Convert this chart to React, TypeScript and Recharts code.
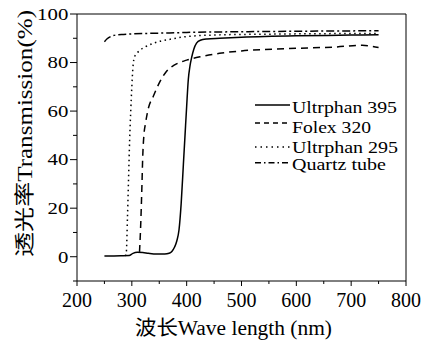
import { Legend, Line, LineChart, ReferenceLine, XAxis, YAxis } from "recharts";

const FONT = '"Liberation Serif", "Times New Roman", "Noto Sans CJK SC", serif';

// wavelength (nm) / transmission (%)
const u395Wl = [250, 280, 295, 302, 310, 320, 330, 345, 360, 368, 373, 378, 382, 386, 390, 394, 397, 400, 403, 406, 409, 413, 418, 425, 437, 460, 500, 600, 700, 750];
const u395T = [0.3, 0.4, 0.5, 1.4, 1.8, 1.7, 1.4, 1.1, 1.1, 1.4, 2.2, 4, 6.5, 11, 22, 38, 50, 62, 73, 78.5, 82, 85.5, 88, 89.2, 89.7, 90, 90.4, 91, 91.3, 91.5];

const folexWl = [314, 316, 318, 320, 322, 325, 330, 339, 351, 363, 378, 400, 430, 460, 500, 580, 670, 720, 735, 750];
const folexT = [2, 12, 26, 42, 50, 55, 61, 66, 72, 76.3, 79, 81, 82.6, 83.8, 84.8, 85.7, 86.4, 87.1, 86.8, 86.2];

const u295Wl = [288, 290, 292, 294, 296, 298, 300, 302, 305, 312, 325, 340, 370, 400, 460, 550, 650, 750];
const u295T = [0.3, 2, 16, 32, 48, 60, 70, 78, 82.4, 84.5, 86.5, 88, 89.6, 90.7, 91.4, 91.7, 91.9, 92];

const quartzWl = [250, 255, 262, 270, 285, 300, 350, 400, 500, 600, 750];
const quartzT = [88.6, 89.8, 90.8, 91.3, 91.6, 91.8, 92.1, 92.4, 92.7, 92.9, 93.1];

const xTicks = [200, 250, 300, 350, 400, 450, 500, 550, 600, 650, 700, 750, 800];
const yTicks = [-10, 0, 10, 20, 30, 40, 50, 60, 70, 80, 90, 100];

const toPoints = (wl: number[], t: number[]) => wl.map((x, i) => ({ x, y: t[i] }));

const series = [
  { name: "Ultrphan 395", data: toPoints(u395Wl, u395T), dash: undefined, legendDash: undefined, textW: 105 },
  { name: "Folex 320", data: toPoints(folexWl, folexT), dash: "7 5", legendDash: "5 4", textW: 79 },
  { name: "Ultrphan 295", data: toPoints(u295Wl, u295T), dash: "1.5 3.5", legendDash: "1.5 4", textW: 106 },
  { name: "Quartz tube", data: toPoints(quartzWl, quartzT), dash: "8 3 2 3", legendDash: "6 3 1.5 3", textW: 94 },
];

const XTick = (props: any) => {
  const { x, y, payload } = props;
  const major = payload.value % 100 === 0;
  return (
    <g>
      <line x1={x} x2={x} y1={y} y2={y + (major ? 5 : 3)} stroke="#000" />
      {major && (
        <text x={x} y={y + 25.5} textAnchor="middle" fontFamily={FONT} fontSize={20} fill="#000"
          textLength={30} lengthAdjust="spacingAndGlyphs">
          {payload.value}
        </text>
      )}
    </g>
  );
};

const YTick = (props: any) => {
  const { x, y, payload } = props;
  const v = payload.value;
  const major = v % 20 === 0 && v >= 0;
  const label = String(v);
  return (
    <g>
      <line x1={x - (major ? 7 : 4)} x2={x} y1={y} y2={y} stroke="#000" />
      {major && (
        <text x={x - 8.7} y={y + 5.8} textAnchor="end" fontFamily={FONT} fontSize={17} fill="#000"
          textLength={label.length * 10.4} lengthAdjust="spacingAndGlyphs">
          {label}
        </text>
      )}
    </g>
  );
};

const XTitle = (props: any) => {
  const { viewBox } = props;
  const cx = viewBox.x + viewBox.width / 2 - 8;
  return (
    <text x={cx} y={viewBox.y + 53.5} textAnchor="middle" fontFamily={FONT} fontSize={20} fill="#000"
      textLength={197} lengthAdjust="spacingAndGlyphs">
      波长Wave length (nm)
    </text>
  );
};

const YTitle = (props: any) => {
  const { viewBox } = props;
  const cy = viewBox.y + viewBox.height / 2 - 14;
  return (
    <text x={32} y={cy} transform={`rotate(-90, 32, ${cy})`} textAnchor="middle" dominantBaseline="auto"
      fontFamily={FONT} fontSize={20} fill="#000" textLength={247} lengthAdjust="spacingAndGlyphs">
      透光率Transmission(%)
    </text>
  );
};

const renderLegend = () => (
  <svg width={180} height={90} style={{ overflow: "visible" }}>
    {series.map((s, i) => {
      const ly = [10, 28, 52, 67.7][i];
      const ty = [18.3, 37.7, 58.3, 75][i];
      return (
        <g key={s.name}>
          <line x1={0} x2={35} y1={ly} y2={ly} stroke="#000" strokeWidth={1.5} strokeDasharray={s.legendDash} />
          <text x={37} y={ty} fontFamily={FONT} fontSize={16} fill="#000" textLength={s.textW}
            lengthAdjust="spacingAndGlyphs">
            {s.name}
          </text>
        </g>
      );
    })}
  </svg>
);

export default function App() {
  return (
    <div style={{ position: "absolute", left: 0, top: 0, background: "#fff" }}>
      <LineChart width={431} height={341} margin={{ top: 14, right: 25, bottom: 0, left: 0 }}>
        <XAxis
          type="number"
          dataKey="x"
          domain={[200, 800]}
          ticks={xTicks}
          interval={0}
          tickSize={0}
          tickMargin={0}
          tickLine={false}
          tick={<XTick />}
          height={60}
          stroke="#000"
          allowDataOverflow
          label={{ content: <XTitle /> }}
        />
        <YAxis
          type="number"
          dataKey="y"
          domain={[-10, 100]}
          ticks={yTicks}
          interval={0}
          tickSize={0}
          tickMargin={0}
          tickLine={false}
          tick={<YTick />}
          width={77}
          stroke="#000"
          allowDataOverflow
          label={{ content: <YTitle /> }}
        />
        <ReferenceLine y={100} stroke="#000" />
        <ReferenceLine x={800} stroke="#000" />
        {series.map((s) => (
          <Line
            key={s.name}
            name={s.name}
            data={s.data}
            dataKey="y"
            type="monotone"
            stroke="#000"
            strokeWidth={1.5}
            strokeDasharray={s.dash}
            dot={false}
            activeDot={false}
            isAnimationActive={false}
          />
        ))}
        <Legend
          layout="horizontal"
          verticalAlign="middle"
          align="center"
          content={renderLegend}
          wrapperStyle={{ left: 255, top: 95, width: 180 }}
        />
      </LineChart>
    </div>
  );
}
